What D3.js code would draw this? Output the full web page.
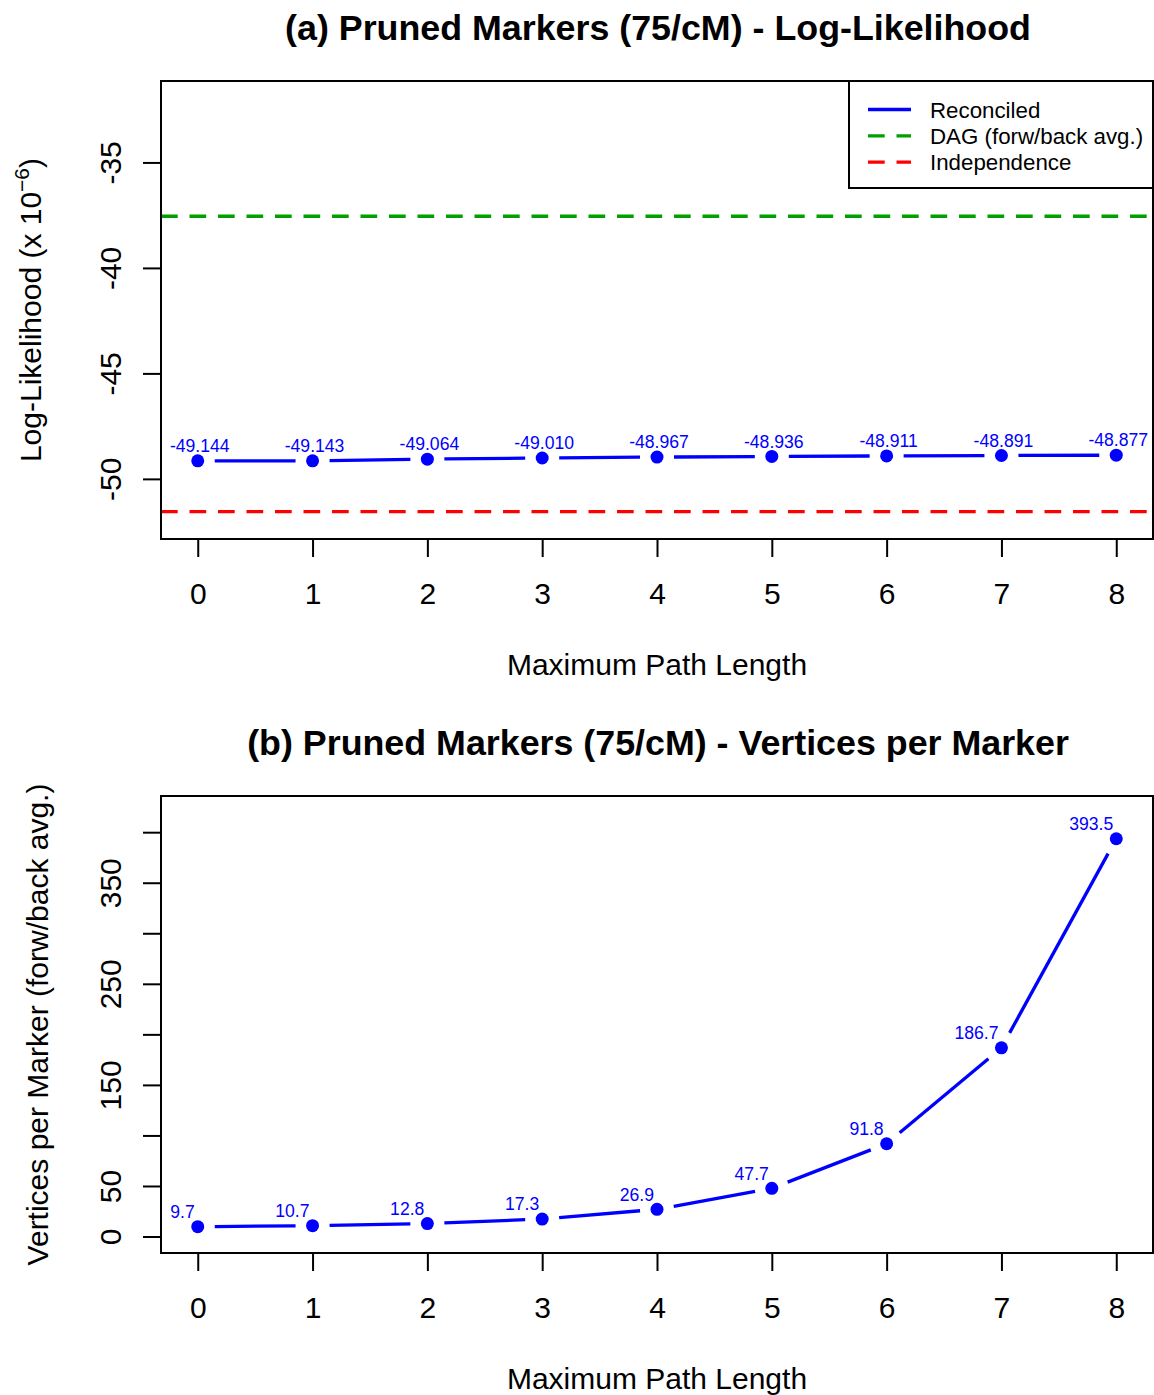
<!DOCTYPE html>
<html>
<head>
<meta charset="utf-8">
<script src="https://cdn.jsdelivr.net/npm/d3@7"></script>
<style>
  body { margin: 0; background: #fff; }
  svg { display: block; font-family: "Liberation Sans", Arial, sans-serif; }
</style>
</head>
<body>
<div id="chart"></div>
<script>
// path lengths on the x axis
const pathLengths = [0, 1, 2, 3, 4, 5, 6, 7, 8]

// panel (a): log-likelihood (x 10^-6)
const logLik = [-49.144, -49.143, -49.064, -49.010, -48.967, -48.936, -48.911, -48.891, -48.877]
const dagLL = -37.55
const indepLL = -51.55
const llTicks = [-50, -45, -40, -35]

// panel (b): vertices per marker
const vertices = [9.7, 10.7, 12.8, 17.3, 26.9, 47.7, 91.8, 186.7, 393.5]
const vTicks = [0, 50, 100, 150, 200, 250, 300, 350, 400]
const vTickLabels = [0, 50, 150, 250, 350]

const legendItems = [
    {name: "Reconciled", color: "#0000ff", dash: null},
    {name: "DAG (forw/back avg.)", color: "#00a000", dash: "16.7 11.8"},
    {name: "Independence", color: "#ff0000", dash: "16.7 11.8"}
]

const width = 1154
const height = 1395
const BLUE = "#0000ff"
const AXFONT = "30px"

const svg = d3.select("#chart").append("svg")
    .attr("width", width)
    .attr("height", height)

const x = d3.scaleLinear().domain([-0.32, 8.32]).range([161, 1153])

function drawPanel(opts) {
    const {top, bottom, yDomain, ticks, tickLabels, values, title, labelMode} = opts
    const left = 161, right = 1153
    const y = d3.scaleLinear().domain(yDomain).range([bottom, top])
    const g = svg.append("g")

    // title
    g.append("text")
        .attr("x", (left + right) / 2 + 1)
        .attr("y", top - 41)
        .attr("text-anchor", "middle")
        .style("font-size", "35.8px")
        .style("font-weight", "bold")
        .text(title)

    // x axis
    const xAxis = g.append("g")
        .attr("transform", `translate(0,${bottom})`)
        .call(d3.axisBottom(x).tickValues(pathLengths).tickSize(18).tickFormat(d3.format("d")))
    xAxis.select(".domain").remove()
    xAxis.selectAll("line").attr("stroke", "#000").attr("stroke-width", 2)
    xAxis.selectAll("text")
        .attr("y", 65).attr("dy", null)
        .attr("fill", "#000")
        .style("font-size", AXFONT)
        .style("font-family", "Liberation Sans, Arial, sans-serif")

    // y axis
    const yAxis = g.append("g")
        .attr("transform", `translate(${left},0)`)
        .call(d3.axisLeft(y).tickValues(ticks).tickSize(18)
            .tickFormat(d => tickLabels.includes(d) ? d3.format("d")(d).replace("\u2212", "-") : ""))
    yAxis.select(".domain").remove()
    yAxis.selectAll("line").attr("stroke", "#000").attr("stroke-width", 2)
    yAxis.selectAll("text")
        .attr("x", null).attr("dy", null)
        .attr("text-anchor", "middle")
        .attr("transform", "translate(-40,0) rotate(-90)")
        .attr("fill", "#000")
        .style("font-size", AXFONT)
        .style("font-family", "Liberation Sans, Arial, sans-serif")

    // x label
    g.append("text")
        .attr("x", (left + right) / 2)
        .attr("y", bottom + 136)
        .attr("text-anchor", "middle")
        .style("font-size", AXFONT)
        .text("Maximum Path Length")

    const clip = "clip" + top
    g.append("clipPath").attr("id", clip)
        .append("rect").attr("x", left).attr("y", top)
        .attr("width", right - left).attr("height", bottom - top)

    const plot = g.append("g").attr("clip-path", `url(#${clip})`)

    if (opts.hlines) {
        opts.hlines.forEach(h => {
            plot.append("line")
                .attr("x1", left).attr("x2", right)
                .attr("y1", y(h.value)).attr("y2", y(h.value))
                .attr("stroke", h.color)
                .attr("stroke-width", 3.3)
                .attr("stroke-dasharray", "16.7 11.8")
        })
    }

    // type = "b": segments with gaps around points
    const pts = values.map((v, i) => [x(pathLengths[i]), y(v)])
    const gap = 17
    const segs = []
    for (let i = 0; i < pts.length - 1; i++) {
        const [x1, y1] = pts[i], [x2, y2] = pts[i + 1]
        const d = Math.hypot(x2 - x1, y2 - y1)
        if (d <= 2 * gap) continue
        const ux = (x2 - x1) / d, uy = (y2 - y1) / d
        segs.push([x1 + ux * gap, y1 + uy * gap, x2 - ux * gap, y2 - uy * gap])
    }
    plot.selectAll(".seg").data(segs).enter().append("line")
        .attr("x1", d => d[0]).attr("y1", d => d[1])
        .attr("x2", d => d[2]).attr("y2", d => d[3])
        .attr("stroke", BLUE).attr("stroke-width", 3.3)

    plot.selectAll(".pt").data(pts).enter().append("circle")
        .attr("cx", d => d[0]).attr("cy", d => d[1])
        .attr("r", 6.5).attr("fill", BLUE)

    // value labels
    g.selectAll(".lbl").data(values).enter().append("text")
        .attr("x", (d, i) => labelMode === "center" ? pts[i][0] + 2 : pts[i][0] - 3)
        .attr("y", (d, i) => pts[i][1] - 8.8)
        .attr("text-anchor", labelMode === "center" ? "middle" : "end")
        .attr("fill", BLUE)
        .style("font-size", "17.6px")
        .text(d => labelMode === "center" ? d.toFixed(3) : d.toFixed(1))

    // box
    g.append("rect")
        .attr("x", left).attr("y", top)
        .attr("width", right - left).attr("height", bottom - top)
        .attr("fill", "none").attr("stroke", "#000").attr("stroke-width", 2)

    return {g, y}
}

const pa = drawPanel({
    top: 81, bottom: 539,
    yDomain: [-52.85, -31.14],
    ticks: llTicks, tickLabels: llTicks,
    values: logLik,
    title: "(a) Pruned Markers (75/cM) - Log-Likelihood",
    labelMode: "center",
    hlines: [{value: dagLL, color: "#00a000"}, {value: indepLL, color: "#ff0000"}]
})

// y label panel a with superscript
const yla = pa.g.append("text")
    .attr("transform", `translate(41,${(81 + 539) / 2}) rotate(-90)`)
    .attr("text-anchor", "middle")
    .style("font-size", AXFONT)
yla.append("tspan").text("Log-Likelihood (x 10")
yla.append("tspan").attr("dy", -12).style("font-size", "21px").text("\u22126")
yla.append("tspan").attr("dy", 12).text(")")

// legend
const leg = pa.g.append("g")
leg.append("rect")
    .attr("x", 849).attr("y", 81).attr("width", 1153 - 849).attr("height", 107)
    .attr("fill", "#fff").attr("stroke", "#000").attr("stroke-width", 2)
const rows = leg.selectAll(".row").data(legendItems).enter().append("g")
    .attr("transform", (d, i) => `translate(0,${109.5 + i * 26.3})`)
rows.append("line")
    .attr("x1", 868).attr("x2", 911)
    .attr("stroke", d => d.color).attr("stroke-width", 3.3)
    .attr("stroke-dasharray", d => d.dash)
rows.append("text")
    .attr("x", 930).attr("y", 8)
    .style("font-size", "22.3px")
    .text(d => d.name)

const pb = drawPanel({
    top: 796, bottom: 1253,
    yDomain: [-16.3, 435.8],
    ticks: vTicks, tickLabels: vTickLabels,
    values: vertices,
    title: "(b) Pruned Markers (75/cM) - Vertices per Marker",
    labelMode: "left"
})

pb.g.append("text")
    .attr("transform", `translate(48,${(796 + 1253) / 2}) rotate(-90)`)
    .attr("text-anchor", "middle")
    .style("font-size", AXFONT)
    .text("Vertices per Marker (forw/back avg.)")
</script>
</body>
</html>
